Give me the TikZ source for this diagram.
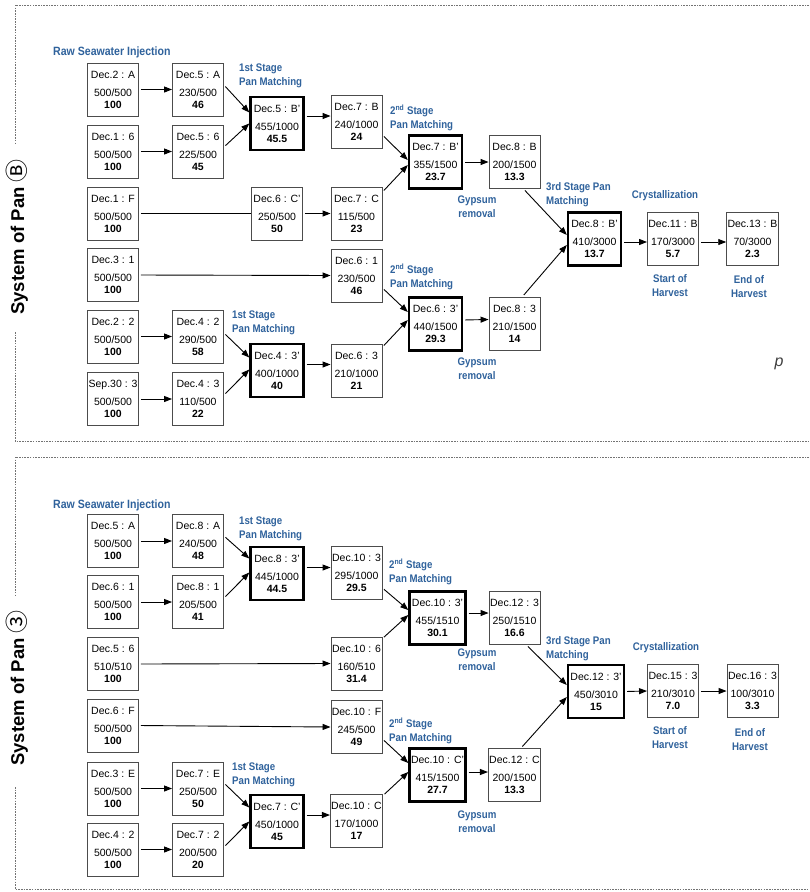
\documentclass[tikz,border=0pt]{standalone}
\usepackage{fontspec}
\setmainfont{Liberation Sans}
\newfontfamily\circfont{Noto Sans CJK SC}
\newfontfamily\lblfam{Liberation Sans}[FakeStretch=0.88]
\usetikzlibrary{arrows.meta}
\definecolor{labblue}{RGB}{47,98,156}
\newcommand\bxt[3]{#1\\[5pt]#2\\[-1pt]\textbf{#3}}
\newcommand\circsym[1]{{\circfont\mdseries\fontsize{23}{23}\selectfont\raisebox{-1.5pt}{#1}}}
\begin{document}
\begin{tikzpicture}[x=1pt,y=-1pt,
  box/.style={draw=black!70, line width=0.9pt, fill=white, minimum width=51pt, minimum height=53pt,
    inner sep=0.8pt, align=center, font=\fontsize{10.5}{13}\selectfont},
  tbox/.style={box, draw=black, line width=2.4pt, minimum width=53pt, minimum height=53pt},
  arr/.style={-{Triangle[length=8pt,width=6pt]}, line width=0.9pt, shorten <=2pt},
  plain/.style={line width=0.9pt, shorten <=2pt},
  lbl/.style={text=labblue, font=\lblfam\bfseries\fontsize{11}{14}\selectfont, inner sep=0pt, align=left},
  lblbig/.style={lbl, font=\lblfam\bfseries\fontsize{12}{14}\selectfont},
  frame/.style={draw=black!55, line width=0.8pt, dash pattern=on 1.6pt off 1.1pt},
  title/.style={rotate=90, font=\bfseries\fontsize{18.5}{20}\selectfont, inner sep=0pt}
]
\useasboundingbox (0,0) rectangle (809,892);
\fill[white] (0,0) rectangle (809,892);

% ---------------- frames ----------------
\draw[frame] (809,5) -- (15,5) -- (15,143);
\draw[frame] (15,332) -- (15,441) -- (809,441);
\draw[frame] (809,457) -- (15,457) -- (15,595);
\draw[frame] (15,787) -- (15,889) -- (809,889);

\node[title] (t1) at (17,237) {System of Pan \circsym{Ⓑ}};
\node[title] (t2) at (17,688) {System of Pan \circsym{③}};
\node[font=\itshape\fontsize{16}{16}\selectfont, text=black!75] (pp) at (779,364) {p};

% ================= Pan B =================
\node[box] (a1) at (113,89.5) {\bxt{Dec.2 : A}{500/500}{100}};
\node[box] (a2) at (113,151.5) {\bxt{Dec.1 : 6}{500/500}{100}};
\node[box] (a3) at (113,213.5) {\bxt{Dec.1 : F}{500/500}{100}};
\node[box] (a4) at (113,275) {\bxt{Dec.3 : 1}{500/500}{100}};
\node[box] (a5) at (113,336.5) {\bxt{Dec.2 : 2}{500/500}{100}};
\node[box] (a6) at (113,399) {\bxt{Sep.30 : 3}{500/500}{100}};
\node[box] (b1) at (198,89.5) {\bxt{Dec.5 : A}{230/500}{46}};
\node[box] (b2) at (198,151.5) {\bxt{Dec.5 : 6}{225/500}{45}};
\node[box] (b5) at (198,336.5) {\bxt{Dec.4 : 2}{290/500}{58}};
\node[box] (b6) at (198,399) {\bxt{Dec.4 : 3}{110/500}{22}};
\node[tbox] (c1) at (277,123.5) {\bxt{Dec.5 : B'}{455/1000}{45.5}};
\node[box] (c3) at (277,213.5) {\bxt{Dec.6 : C'}{250/500}{50}};
\node[tbox] (c6) at (277,370.5) {\bxt{Dec.4 : 3'}{400/1000}{40}};
\node[box] (d1) at (356.5,121.5) {\bxt{Dec.7 : B}{240/1000}{24}};
\node[box] (d3) at (356.5,213.5) {\bxt{Dec.7 : C}{115/500}{23}};
\node[box] (d4) at (356.5,275.5) {\bxt{Dec.6 : 1}{230/500}{46}};
\node[box] (d6) at (356.5,370.5) {\bxt{Dec.6 : 3}{210/1000}{21}};
\node[tbox] (e1) at (435.5,162) {\bxt{Dec.7 : B'}{355/1500}{23.7}};
\node[tbox] (e2) at (435.5,324) {\bxt{Dec.6 : 3'}{440/1500}{29.3}};
\node[box] (f1) at (514.5,162) {\bxt{Dec.8 : B}{200/1500}{13.3}};
\node[box] (f2) at (514.5,323.5) {\bxt{Dec.8 : 3}{210/1500}{14}};
\node[tbox] (g) at (594.5,239) {\bxt{Dec.8 : B'}{410/3000}{13.7}};
\node[box] (h) at (673,239) {\bxt{Dec.11 : B}{170/3000}{5.7}};
\node[box] (i) at (752.5,239) {\bxt{Dec.13 : B}{70/3000}{2.3}};

\node[lblbig, anchor=west] (l1) at (53,52) {Raw Seawater Injection};
\node[lbl, anchor=west] (l2) at (239,75.5) {1st Stage\\Pan Matching};
\node[lbl, anchor=west] (l3) at (390,118) {2\textsuperscript{nd} Stage\\Pan Matching};
\node[lbl, align=center] (l4) at (477,207) {Gypsum\\removal};
\node[lbl, anchor=west] (l5) at (546,194.5) {3rd Stage Pan\\Matching};
\node[lbl] (l6) at (665,196) {Crystallization};
\node[lbl, align=center] (l7) at (670,285.5) {Start of\\Harvest};
\node[lbl, align=center] (l8) at (749,287) {End of\\Harvest};
\node[lbl, anchor=west] (l9) at (232,322.5) {1st Stage\\Pan Matching};
\node[lbl, anchor=west] (l10) at (390,277) {2\textsuperscript{nd} Stage\\Pan Matching};
\node[lbl, align=center] (l11) at (477,369) {Gypsum\\removal};

\draw[arr] (a1.east) -- (b1.west);
\draw[arr] (a2.east) -- (b2.west);
\draw[arr] ([yshift=4.5pt]b1.east) -- ([yshift=11pt]c1.west);
\draw[arr] ([yshift=4.5pt]b2.east) -- ([yshift=0pt]c1.west);
\draw[arr] (c1.east |- 0,116) -- (d1.west |- 0,116);
\draw[plain] (a3.east) -- (c3.west);
\draw[arr] (c3.east) -- (d3.west);
\draw[arr] ([yshift=-13.5pt]d1.east) -- ([yshift=2pt]e1.west);
\draw[arr] ([yshift=21.5pt]d3.east) -- ([yshift=-3pt]e1.west);
\draw[arr] (e1.east) -- (f1.west);
\draw[arr] ([xshift=9pt]f1.south) -- ([yshift=4pt]g.west);
\draw[arr] (a4.east) -- (d4.west);
\draw[arr] (a5.east) -- (b5.west);
\draw[arr] (a6.east) -- (b6.west);
\draw[arr] ([yshift=3.5pt]b5.east) -- ([yshift=13pt]c6.west);
\draw[arr] ([yshift=4pt]b6.east) -- ([yshift=1pt]c6.west);
\draw[arr] ([yshift=6pt]c6.east) -- ([yshift=6pt]d6.west);
\draw[arr] ([yshift=-12.5pt]d4.east) -- ([yshift=12pt]e2.west);
\draw[arr] ([yshift=23.5pt]d6.east) -- ([yshift=4pt]e2.west);
\draw[arr] ([yshift=4pt]e2.east) -- ([yshift=4pt]f2.west);
\draw[arr] ([xshift=8pt]f2.north) -- ([yshift=-6pt]g.west);
\draw[arr] ([yshift=-3pt]g.east) -- ([yshift=-3pt]h.west);
\draw[arr] ([yshift=-3pt]h.east) -- ([yshift=-3pt]i.west);

% ================= Pan 3 =================
\node[box] (A1) at (113,541) {\bxt{Dec.5 : A}{500/500}{100}};
\node[box] (A2) at (113,602) {\bxt{Dec.6 : 1}{500/500}{100}};
\node[box] (A3) at (113,664) {\bxt{Dec.5 : 6}{510/510}{100}};
\node[box] (A4) at (113,725.5) {\bxt{Dec.6 : F}{500/500}{100}};
\node[box] (A5) at (113,788.5) {\bxt{Dec.3 : E}{500/500}{100}};
\node[box] (A6) at (113,849.5) {\bxt{Dec.4 : 2}{500/500}{100}};
\node[box] (B1) at (198,541) {\bxt{Dec.8 : A}{240/500}{48}};
\node[box] (B2) at (198,602) {\bxt{Dec.8 : 1}{205/500}{41}};
\node[box] (B5) at (198,788.5) {\bxt{Dec.7 : E}{250/500}{50}};
\node[box] (B6) at (198,849.5) {\bxt{Dec.7 : 2}{200/500}{20}};
\node[tbox] (C1) at (277,573.5) {\bxt{Dec.8 : 3'}{445/1000}{44.5}};
\node[tbox] (C6) at (277,821.5) {\bxt{Dec.7 : C'}{450/1000}{45}};
\node[box] (D1) at (356.5,573) {\bxt{Dec.10 : 3}{295/1000}{29.5}};
\node[box] (D3) at (356.5,663.5) {\bxt{Dec.10 : 6}{160/510}{31.4}};
\node[box] (D4) at (356.5,727) {\bxt{Dec.10 : F}{245/500}{49}};
\node[box] (D6) at (356.5,820.5) {\bxt{Dec.10 : C}{170/1000}{17}};
\node[tbox, minimum width=56pt] (E1) at (437.5,618) {\bxt{Dec.10 : 3'}{455/1510}{30.1}};
\node[tbox, minimum width=56pt] (E2) at (437.5,775) {\bxt{Dec.10 : C'}{415/1500}{27.7}};
\node[box] (F1) at (514.5,618) {\bxt{Dec.12 : 3}{250/1510}{16.6}};
\node[box] (F2) at (514.5,775) {\bxt{Dec.12 : C}{200/1500}{13.3}};
\node[tbox, minimum width=56pt] (G) at (596,691.5) {\bxt{Dec.12 : 3'}{450/3010}{15}};
\node[box] (H) at (673,691) {\bxt{Dec.15 : 3}{210/3010}{7.0}};
\node[box] (I) at (752.5,691) {\bxt{Dec.16 : 3}{100/3010}{3.3}};

\node[lblbig, anchor=west] (m1) at (53,505) {Raw Seawater Injection};
\node[lbl, anchor=west] (m2) at (239,528.5) {1st Stage\\Pan Matching};
\node[lbl, anchor=west] (m3) at (389,572) {2\textsuperscript{nd} Stage\\Pan Matching};
\node[lbl, align=center] (m4) at (477,660) {Gypsum\\removal};
\node[lbl, anchor=west] (m5) at (546,648.5) {3rd Stage Pan\\Matching};
\node[lbl] (m6) at (666,648) {Crystallization};
\node[lbl, align=center] (m7) at (670,737.5) {Start of\\Harvest};
\node[lbl, align=center] (m8) at (750,740) {End of\\Harvest};
\node[lbl, anchor=west] (m9) at (232,774.5) {1st Stage\\Pan Matching};
\node[lbl, anchor=west] (m10) at (389,731) {2\textsuperscript{nd} Stage\\Pan Matching};
\node[lbl, align=center] (m11) at (477,821.5) {Gypsum\\removal};

\draw[arr] (A1.east) -- (B1.west);
\draw[arr] (A2.east) -- (B2.west);
\draw[arr] ([yshift=5pt]B1.east) -- ([yshift=15pt]C1.west);
\draw[arr] ([yshift=4pt]B2.east) -- ([yshift=1pt]C1.west);
\draw[arr] (C1.east |- 0,567.5) -- (D1.west |- 0,567.5);
\draw[arr] (A3.east) -- (D3.west);
\draw[arr] ([yshift=-15pt]D1.east) -- ([yshift=8pt]E1.west);
\draw[arr] ([yshift=25pt]D3.east) -- ([yshift=3pt]E1.west);
\draw[arr] ([yshift=5pt]E1.east) -- ([yshift=5pt]F1.west);
\draw[arr] ([xshift=12pt]F1.south) -- ([yshift=6.5pt]G.west);
\draw[arr] (A4.east) -- (D4.west);
\draw[arr] (A5.east) -- (B5.west);
\draw[arr] (A6.east) -- (B6.west);
\draw[arr] ([yshift=5.5pt]B5.east) -- ([yshift=14pt]C6.west);
\draw[arr] ([yshift=2.5pt]B6.east) -- ([yshift=0pt]C6.west);
\draw[arr] (C6.east |- 0,815) -- (D6.west |- 0,815);
\draw[arr] ([yshift=-12pt]D4.east) -- ([yshift=12pt]E2.west);
\draw[arr] ([yshift=25pt]D6.east) -- ([yshift=3pt]E2.west);
\draw[arr] ([yshift=3pt]E2.east) -- ([yshift=3pt]F2.west);
\draw[arr] ([xshift=6.5pt]F2.north) -- ([yshift=-5.5pt]G.west);
\draw[arr] (G.east) -- (H.west);
\draw[arr] (H.east) -- (I.west);
\end{tikzpicture}
\end{document}
